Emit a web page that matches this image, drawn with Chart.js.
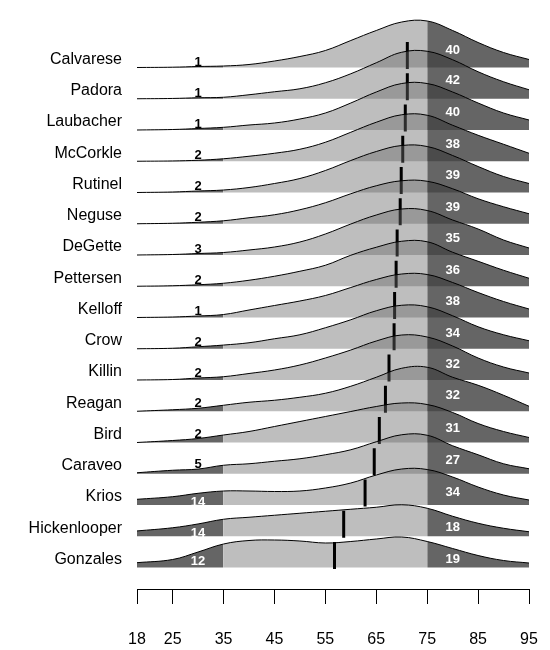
<!DOCTYPE html>
<html>
<head>
<meta charset="utf-8">
<script src="https://cdn.jsdelivr.net/npm/chart.js@4.4.1/dist/chart.umd.min.js"></script>
<style>
  html, body { margin: 0; padding: 0; background: #ffffff; }
  #wrap { width: 550px; height: 650px; position: relative; }
</style>
</head>
<body>
<div id="wrap"><canvas id="c"></canvas></div>
<script>
// ---------------- DATA ----------------
const candidates = ['Calvarese','Padora','Laubacher','McCorkle','Rutinel','Neguse','DeGette',
  'Pettersen','Kelloff','Crow','Killin','Reagan','Bird','Caraveo','Krios','Hickenlooper','Gonzales'];

// age grid at which the density curves were read
const ageGrid = [18, 25, 30, 35, 40, 45, 50, 55, 60, 65, 70, 75, 80, 85, 90, 95];
const xTickValues = [18, 25, 35, 45, 55, 65, 75, 85, 95];

// density heights (relative units) read from each ridge
const dCalvarese    = [0, 0.3, 1, 1.5, 3, 6.5, 11, 17, 27, 37, 45.5, 46.5, 37, 25, 15, 8];
const dPadora       = [0, 0.3, 1, 1.5, 4, 7, 10, 16, 25, 36, 46.5, 47.5, 39, 27, 17, 9];
const dLaubacher    = [0, 0.5, 1.5, 2.7, 5, 7, 11, 17, 27, 38, 46.5, 46.5, 38, 27, 17, 10];
const dMcCorkle     = [0, 0.3, 1, 2.5, 5, 8, 12, 19, 29, 39, 46.5, 46, 36, 26, 17, 8];
const dRutinel      = [0, 0.5, 1.5, 2.5, 5, 9, 14, 22, 32, 41, 47, 46, 37, 26, 16, 9];
const dNeguse       = [0, 0.5, 1.5, 3, 6, 9, 14, 21, 30, 38, 43, 42.5, 35, 25, 17, 10];
const dDeGette      = [0, 0.5, 1.5, 2.5, 5, 8, 13, 21, 31, 40, 46, 44.5, 35, 26, 15, 7];
const dPettersen    = [0, 0.5, 1.5, 3, 6, 10, 15, 21, 31, 39, 45, 44.5, 34, 25, 16, 8];
const dKelloff      = [0, 0.5, 1.5, 3, 7.5, 12, 16.5, 22, 30, 38, 43.5, 43, 35, 25, 16, 8.5];
const dCrow         = [0, 0.5, 2, 3.7, 6, 10, 14, 21, 29, 38, 43.5, 42, 33, 22, 14, 8];
const dKillin       = [0, 0.5, 2, 3.3, 6.5, 10, 15, 22, 30, 39, 45, 43, 34, 22, 13, 7];
const dReagan       = [0, 1.5, 3, 6, 9, 11, 14, 18, 25, 34, 43, 44, 34, 26, 16, 5];
const dBird         = [0, 2, 4, 7.5, 11, 16, 21, 26, 31, 36, 39.5, 38, 30, 19, 11, 5];
const dCaraveo      = [1, 3.5, 4.7, 8.5, 10, 12.5, 15, 19, 24, 32, 39, 38.5, 28, 19, 10, 5];
const dKrios        = [5.7, 8.3, 11.7, 14, 14, 13.5, 14, 17, 22, 30, 36, 35.5, 28, 18, 10, 5];
const dHickenlooper = [5.3, 8.5, 12.3, 17, 19, 21, 23, 25, 27, 29, 31.5, 28, 20, 13, 8, 4.5];
const dGonzales     = [4.8, 8, 15.5, 23.5, 27, 27.5, 26.5, 24.5, 26, 28.5, 30.5, 26, 19, 12, 7, 4.5];

const densities = [dCalvarese, dPadora, dLaubacher, dMcCorkle, dRutinel, dNeguse, dDeGette,
  dPettersen, dKelloff, dCrow, dKillin, dReagan, dBird, dCaraveo, dKrios, dHickenlooper, dGonzales];

// mean age marker per candidate
const meanAge = [71.1, 71.1, 70.7, 70.2, 69.9, 69.7, 69.1, 68.9, 68.6, 68.5, 67.5, 66.8, 65.6, 64.6, 62.8, 58.6, 56.8];
// counts under 35 and over 75
const countUnder35 = [1, 1, 1, 2, 2, 2, 3, 2, 1, 2, 2, 2, 2, 5, 14, 14, 12];
const countOver75  = [40, 42, 40, 38, 39, 39, 35, 36, 38, 34, 32, 32, 31, 27, 34, 18, 19];

// ---------------- STYLE / LAYOUT ----------------
const LOW_CUT = 35, HIGH_CUT = 75;
const LOW_LABEL_AGE = 30, HIGH_LABEL_AGE = 80;
const ROW_PX = 31.25;                 // pixels per ridge row
const HEIGHT_SCALE = 1 / ROW_PX;      // density units -> row units
const LIGHT = 'rgba(104,104,104,0.43)';
const DARK  = 'rgba(72,72,72,0.84)';
const FONT = "'Liberation Sans', Arial, Helvetica, sans-serif";
const nRows = candidates.length;
const baseOf = r => (nRows - 1 - r);

const datasets = [];
candidates.forEach((name, r) => {
  const base = baseOf(r);
  const d = densities[r];
  datasets.push({
    label: name,
    data: ageGrid.map((a, i) => ({ x: a, y: base + d[i] * HEIGHT_SCALE })),
    borderColor: '#000',
    borderWidth: 1,
    backgroundColor: LIGHT,
    fill: { value: base },
    pointRadius: 0,
    tension: 0.4,
    order: 1000 - 2 * r,
    segment: {
      backgroundColor: ctx => {
        const a = ageGrid[ctx.p0DataIndex];
        return (a < LOW_CUT || a >= HIGH_CUT) ? DARK : LIGHT;
      }
    }
  });
  datasets.push({
    label: name + ' mean',
    data: [{ x: meanAge[r], y: base - 1.5 / ROW_PX }, { x: meanAge[r], y: base + 25.5 / ROW_PX }],
    borderColor: '#000',
    borderWidth: 3,
    borderCapStyle: 'butt',
    fill: false,
    pointRadius: 0,
    order: 999 - 2 * r
  });
});

const countLabels = {
  id: 'countLabels',
  afterDatasetsDraw(chart) {
    const { ctx } = chart;
    const xs = chart.scales.x, ys = chart.scales.y;
    const iLow = ageGrid.indexOf(LOW_LABEL_AGE), iHigh = ageGrid.indexOf(HIGH_LABEL_AGE);
    ctx.save();
    ctx.font = 'bold 13px ' + FONT;
    ctx.textAlign = 'center';
    candidates.forEach((name, r) => {
      const base = baseOf(r);
      const d = densities[r];
      const xL = xs.getPixelForValue(LOW_LABEL_AGE);
      const curveY = ys.getPixelForValue(base + d[iLow] * HEIGHT_SCALE);
      ctx.textBaseline = 'alphabetic';
      if (countUnder35[r] >= 10) {
        ctx.fillStyle = '#ffffff';
        ctx.fillText(String(countUnder35[r]), xL, curveY + 13);
      } else {
        ctx.fillStyle = '#000000';
        ctx.fillText(String(countUnder35[r]), xL, curveY - 1);
      }
      const xR = xs.getPixelForValue(HIGH_LABEL_AGE);
      const yR = ys.getPixelForValue(base + d[iHigh] * HEIGHT_SCALE / 2);
      ctx.fillStyle = '#ffffff';
      ctx.textBaseline = 'middle';
      ctx.fillText(String(countOver75[r]), xR, yR + 1);
    });
    ctx.restore();
  }
};

new Chart(document.getElementById('c'), {
  type: 'line',
  data: { datasets },
  plugins: [countLabels],
  options: {
    responsive: true,
    maintainAspectRatio: false,
    animation: false,
    events: [],
    layout: { padding: { top: 10, right: 21, left: 0, bottom: 0 } },
    plugins: { legend: { display: false }, tooltip: { enabled: false } },
    scales: {
      x: {
        type: 'linear',
        min: 18, max: 95,
        afterBuildTicks: s => { s.ticks = xTickValues.map(v => ({ value: v })); },
        afterFit: s => { s.height = 61; s.paddingLeft = 0; s.paddingRight = 0; },
        grid: { drawOnChartArea: false, drawTicks: true, tickLength: 15, color: '#000', lineWidth: 1 },
        border: { display: true, color: '#000', width: 1 },
        ticks: {
          autoSkip: false, maxRotation: 0, padding: 26,
          color: '#000', font: { family: FONT, size: 16 },
          callback: v => String(v)
        }
      },
      y: {
        type: 'linear',
        min: -0.688, max: 17.84,
        afterBuildTicks: s => { s.ticks = candidates.map((n, r) => ({ value: baseOf(r) + 0.26 })); },
        afterFit: s => { s.width = 137; s.paddingTop = 0; s.paddingBottom = 0; },
        grid: { display: false, drawTicks: false },
        border: { display: false },
        ticks: {
          autoSkip: false, padding: 15,
          color: '#000', font: { family: FONT, size: 16 },
          callback: (v, i) => candidates[i]
        }
      }
    }
  }
});
</script>
</body>
</html>
